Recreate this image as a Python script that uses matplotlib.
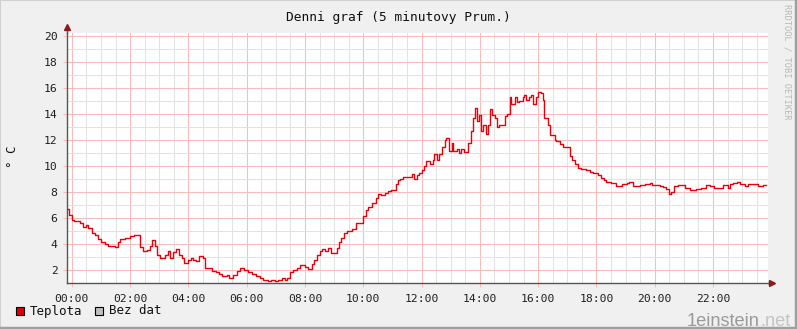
import numpy as np
import matplotlib
matplotlib.use("Agg")
import matplotlib.pyplot as plt
from matplotlib.patches import Rectangle
from matplotlib.ticker import MultipleLocator, FixedLocator

# 5-minute average temperature, step start times (minutes after midnight) and value
step_min = [
    -9, -5, 0, 5, 17, 24, 29, 34, 41, 48, 53, 61, 68, 75, 89, 96, 100, 109, 120, 127,
    140, 146, 154, 160, 166, 171, 176, 181, 192, 197, 202, 209, 214, 221, 226, 230,
    240, 245, 250, 256, 261, 271, 274, 281, 288, 297, 304, 309, 319, 324, 331, 341,
    346, 354, 363, 370, 380, 387, 394, 404, 411, 418, 425, 432, 439, 443, 450, 456,
    463, 469, 480, 487, 494, 498, 505, 511, 516, 521, 528, 533, 545, 550, 555, 560,
    566, 576, 585, 593, 600, 605, 610, 619, 626, 631, 637, 644, 651, 658, 667, 672,
    675, 682, 701, 705, 710, 715, 720, 725, 730, 737, 743, 745, 751, 756, 763, 768,
    771, 777, 782, 785, 793, 797, 802, 807, 816, 821, 826, 830, 834, 838, 843, 847,
    852, 857, 860, 866, 871, 875, 880, 891, 896, 902, 905, 912, 917, 921, 928, 930,
    936, 941, 946, 949, 956, 960, 965, 969, 973, 980, 985, 994, 997, 1004, 1011, 1018,
    1025, 1030, 1035, 1042, 1049, 1059, 1066, 1073, 1083, 1090, 1095, 1100, 1111, 1121,
    1133, 1142, 1148, 1155, 1169, 1179, 1191, 1195, 1210, 1217, 1224, 1229, 1234, 1239,
    1248, 1263, 1273, 1284, 1296, 1306, 1313, 1323, 1341, 1351, 1356, 1361, 1369, 1376,
    1385, 1392, 1413, 1423,
]
temp_c = [
    6.7, 6.25, 5.87, 5.75, 5.62, 5.36, 5.5, 5.25, 4.9, 4.7, 4.4, 4.2, 4.0, 3.85, 3.76, 4.16, 4.4, 4.5, 4.6, 4.7,
    3.8, 3.45, 3.55, 3.9, 4.35, 3.9, 3.2, 2.95, 3.2, 3.45, 2.95, 3.4, 3.65, 3.2, 2.95, 2.55,
    2.8, 2.95, 2.8, 2.7, 3.08, 2.95, 2.2, 2.15, 1.95, 1.83, 1.72, 1.57, 1.65, 1.37, 1.65, 1.98,
    2.15, 2.0, 1.83, 1.72, 1.57, 1.4, 1.27, 1.17, 1.22, 1.17, 1.27, 1.37, 1.22, 1.4, 1.9, 2.0,
    2.15, 2.37, 2.22, 2.12, 2.48, 2.8, 3.15, 3.45, 3.65, 3.45, 3.7, 3.35, 3.7, 4.15, 4.5, 4.9,
    5.05, 5.2, 5.6, 5.65, 6.15, 6.6, 6.9, 7.15, 7.55, 7.85, 7.75, 7.9, 8.1, 8.2, 8.6, 8.9,
    9.02, 9.2, 9.4, 9.0, 9.3, 9.5, 9.7, 10.0, 10.4, 10.2, 10.5, 10.97, 10.5, 10.9, 11.5, 12.0,
    12.2, 11.2, 11.75, 11.2, 11.3, 11.0, 11.3, 11.1, 11.8, 12.7, 13.7, 14.5, 13.5, 13.9, 12.7, 13.15,
    12.5, 13.15, 14.4, 13.9, 13.7, 13.0, 13.15, 13.85, 14.0, 15.3, 14.75, 15.3, 14.9, 15.0, 15.3, 15.5,
    15.05, 15.3, 15.5, 14.75, 15.3, 15.7, 15.6, 15.05, 13.7, 13.15, 12.4, 12.0, 11.9, 11.7, 11.5, 11.45,
    10.8, 10.45, 10.2, 9.85, 9.77, 9.67, 9.58, 9.46, 9.33, 9.07, 8.9, 8.77, 8.69, 8.51,
    8.64, 8.74, 8.8, 8.48, 8.56, 8.61, 8.69, 8.56, 8.48, 8.38, 8.23, 7.85, 8.05, 8.48,
    8.56, 8.31, 8.13, 8.23, 8.31, 8.56, 8.48, 8.36, 8.56, 8.36, 8.64, 8.74, 8.82, 8.64,
    8.48, 8.61, 8.48, 8.56,
]
end_min = 1430

tick_hours = [0, 2, 4, 6, 8, 10, 12, 14, 16, 18, 20, 22]
tick_labels = ["%02d:00" % h for h in tick_hours]
y_ticks = [2, 4, 6, 8, 10, 12, 14, 16, 18, 20]

W, H = 797, 329
mono = "DejaVu Sans Mono"
bg = "#f0f0f0"
major_c = "#f7bcbc"
minor_c = "#e2e2e2"
line_c = "#e8000b"

fig = plt.figure(figsize=(W / 100, H / 100), dpi=100, facecolor=bg)

# rrdtool style frame: light top/left, dark bottom/right
fig.add_artist(Rectangle((0, 0), 1, 1, transform=fig.transFigure, fill=False,
                         edgecolor="#d0d0d0", lw=1.5))
fig.add_artist(plt.Line2D([0, 1], [1.5 / H, 1.5 / H], transform=fig.transFigure,
                          color="#a0a0a0", lw=2.5))
fig.add_artist(plt.Line2D([1 - 1.5 / W, 1 - 1.5 / W], [0, 1], transform=fig.transFigure,
                          color="#a0a0a0", lw=2.5))

x0, x1 = 67.3, 767.5
ytop, ybot = 33.0, 283.3
ax = fig.add_axes([x0 / W, 1 - ybot / H, (x1 - x0) / W, (ybot - ytop) / H])
ax.set_facecolor("white")

xs = np.array(step_min + [end_min]) / 60.0
ys = np.array(temp_c + [temp_c[-1]])
ax.step(xs, ys, where="post", color=line_c, lw=1.0, zorder=5)

ax.set_xlim(-0.155, 23.87)
ax.set_ylim(1.0, 20.23)

ax.xaxis.set_major_locator(FixedLocator(tick_hours))
ax.xaxis.set_minor_locator(MultipleLocator(0.5))
ax.yaxis.set_major_locator(FixedLocator(y_ticks))
ax.yaxis.set_minor_locator(MultipleLocator(1))
ax.set_xticklabels(tick_labels)
ax.grid(which="minor", color=minor_c, lw=0.75)
ax.grid(which="major", color=major_c, lw=0.75)
ax.set_axisbelow(True)

for lab in ax.get_xticklabels() + ax.get_yticklabels():
    lab.set_fontfamily(mono)
    lab.set_fontsize(8.2)
    lab.set_color("#202020")
ax.tick_params(which="major", direction="out", length=3, color=major_c, pad=4)
ax.tick_params(which="minor", length=0)
ax.tick_params(axis="x", pad=5)

for side in ["top", "right"]:
    ax.spines[side].set_visible(False)
for side in ["left", "bottom"]:
    ax.spines[side].set_color("#555555")
    ax.spines[side].set_linewidth(1.0)

# axis arrows
ax.plot([0, 0], [1, 1.02], transform=ax.transAxes, color="#555555", lw=1.0, clip_on=False)
ax.plot([1, 1.005], [0, 0], transform=ax.transAxes, color="#555555", lw=1.0, clip_on=False)
ax.plot(0, 1.025, marker="^", ms=4.5, color="#8b1a1a", transform=ax.transAxes, clip_on=False)
ax.plot(1.007, 0, marker=">", ms=4.5, color="#8b1a1a", transform=ax.transAxes, clip_on=False)

fig.text(0.5, 1 - 17 / H, "Denni graf (5 minutovy Prum.)", ha="center", va="center",
         family=mono, fontsize=9.3, color="#101010")
fig.text(12 / W, 1 - 157 / H, "\u00b0 C", rotation=90, ha="center", va="center",
         family=mono, fontsize=9, color="#101010")
fig.text(787 / W, 1 - 62 / H, "RRDTOOL / TOBI OETIKER", rotation=-90, ha="center",
         va="center", family=mono, fontsize=6.3, color="#b8b8b8")

# legend
ly = 1 - 311 / H
fig.add_artist(Rectangle((16 / W, 1 - 315 / H), 8 / W, 8 / H, transform=fig.transFigure,
                         facecolor="#e00000", edgecolor="black", lw=0.8))
fig.text(30 / W, ly, "Teplota", ha="left", va="center", family=mono, fontsize=9, color="#101010")
fig.add_artist(Rectangle((95 / W, 1 - 315 / H), 8 / W, 8 / H, transform=fig.transFigure,
                         facecolor="#c0c0c0", edgecolor="black", lw=0.8))
fig.text(109 / W, ly, "Bez dat", ha="left", va="center", family=mono, fontsize=9, color="#101010")

# watermark, sized to span about 687..792 px
wm_font = ["Liberation Sans", "DejaVu Sans"]
wm_y = 1 - 325.5 / H
t1 = fig.text(687 / W, wm_y, "1einstein", ha="left", va="baseline",
              family=wm_font, fontsize=14, color="#9a9a9a")
t2 = fig.text(0, wm_y, ".net", ha="left", va="baseline",
              family=wm_font, fontsize=14, color="#c4c4c4")
fig.canvas.draw()
r = fig.canvas.get_renderer()
total = t1.get_window_extent(r).width + t2.get_window_extent(r).width
fs = 14 * 104.0 / total
t1.set_fontsize(fs)
t2.set_fontsize(fs)
fig.canvas.draw()
t2.set_x(t1.get_window_extent(r).x1 / W)

fig.savefig("out.png", dpi=100, facecolor=bg)
